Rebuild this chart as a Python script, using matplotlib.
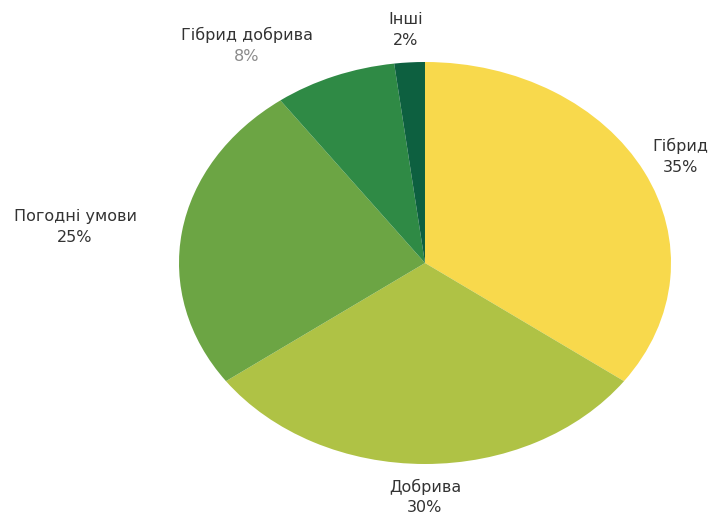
import numpy as np
import matplotlib
matplotlib.use('Agg')
import matplotlib.pyplot as plt

# Factors affecting yield (share, %)
categories = ['Гібрид', 'Добрива', 'Погодні умови', 'Гібрид добрива', 'Інші']
shares = [35, 30, 25, 8, 2]
colors = ['#F8D94C', '#AFC245', '#6CA544', '#2F8A45', '#0D6040']
pct_colors = ['#333333', '#333333', '#333333', '#8a8a8a', '#333333']
# how far each label sits from the centre (in radii) and nudge along the rim
label_dist = [1.167, 1.165, 1.434, 1.30, 1.162]
label_shift = [0, 0, 1.8, 12.2, 0.2]  # degrees

plt.rcParams['font.family'] = ['DejaVu Sans']

fig = plt.figure(figsize=(7.12, 5.15), dpi=100)
ax = fig.add_axes([0, 0, 1, 1])

wedges, _ = ax.pie(shares, colors=colors, startangle=90, counterclock=False,
                   radius=1.0, center=(0, 0),
                   wedgeprops=dict(linewidth=0))

for w, name, val, d, sh, pc in zip(wedges, categories, shares, label_dist,
                                   label_shift, pct_colors):
    ang = np.deg2rad((w.theta1 + w.theta2) / 2 + sh)
    x, y = d * np.cos(ang), d * np.sin(ang)
    ax.annotate(name, (x, y), xytext=(0, 7.6), textcoords='offset points',
                ha='center', va='center', fontsize=11.5, color='#333333')
    ax.annotate(f'{val}%', (x, y), xytext=(0, -7.6), textcoords='offset points',
                ha='center', va='center', fontsize=11.5, color=pc)

# stretch the pie into the wide ellipse of the original
ax.set_aspect('auto')
ax.set_xlim(-425 / 246, (712 - 425) / 246)
ax.set_ylim(-252 / 201, 263 / 201)
ax.axis('off')

fig.savefig('out.png', dpi=100, facecolor='white')
